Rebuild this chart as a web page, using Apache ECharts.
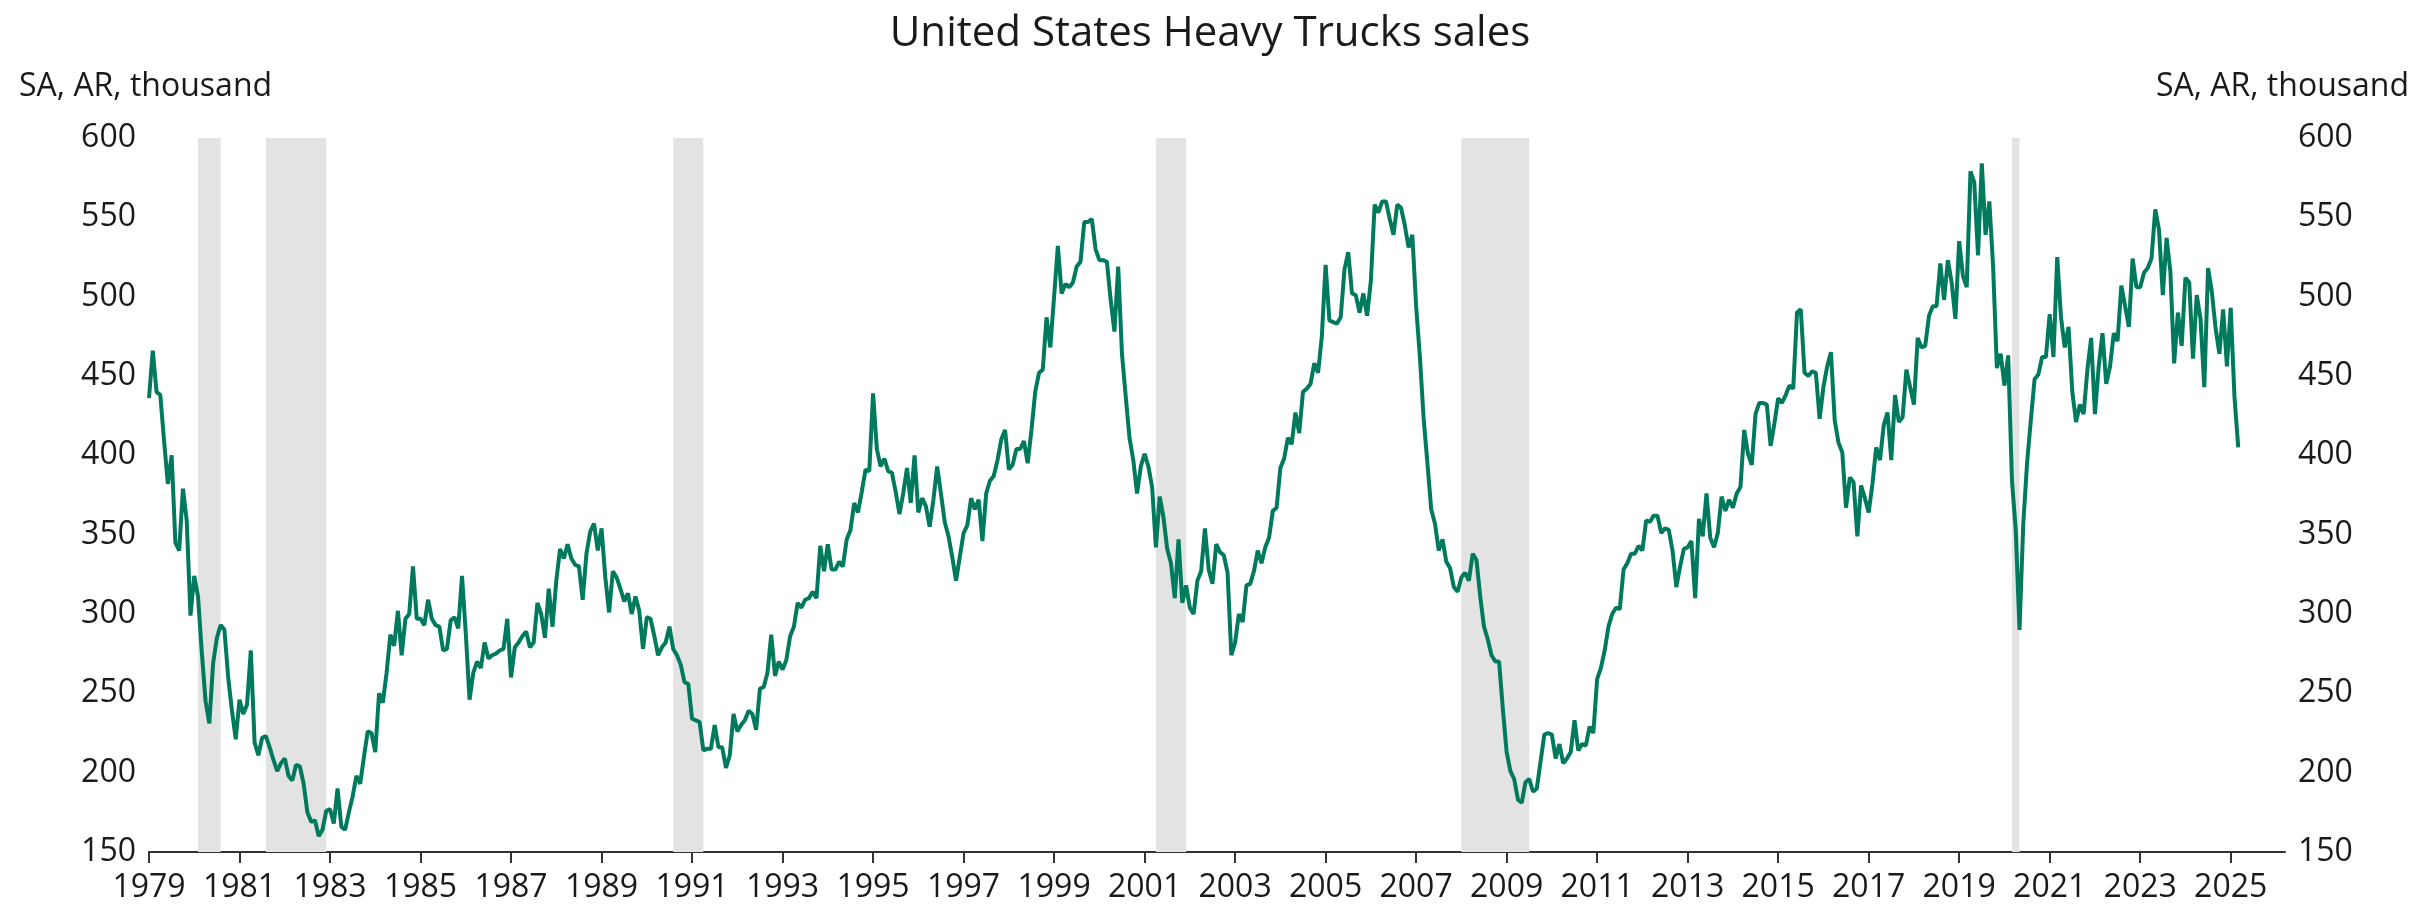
<!DOCTYPE html>
<html>
<head>
<meta charset="utf-8">
<title>United States Heavy Trucks sales</title>
<script src="https://cdn.jsdelivr.net/npm/echarts@6/dist/echarts.min.js"></script>
<style>
  html, body { margin: 0; padding: 0; background: #fff; }
  #chart { width: 2420px; height: 913px; }
</style>
</head>
<body>
<div id="chart"></div>
<script>
const chartTitle = 'United States Heavy Trucks sales'
const unitLabel = 'SA, AR, thousand'
const firstYear = 1979

// monthly values, Jan 1979 .. Mar 2025, one row per year
const sales = [
  436, 466, 440, 438, 409, 382, 400, 345, 340, 379, 359, 299,
  324, 311, 276, 245, 231, 269, 285, 293, 290, 260, 239, 221,
  246, 237, 243, 277, 219, 211, 222, 223, 216, 208, 201, 206,
  209, 198, 195, 205, 204, 193, 175, 169, 170, 160, 164, 176,
  177, 168, 190, 166, 164, 175, 185, 198, 193, 210, 226, 225,
  213, 250, 244, 263, 287, 280, 302, 274, 297, 300, 330, 297,
  297, 293, 309, 297, 293, 292, 277, 278, 296, 298, 291, 324,
  288, 246, 263, 270, 266, 282, 272, 274, 275, 277, 278, 297,
  260, 279, 282, 286, 289, 279, 282, 307, 300, 285, 316, 292,
  321, 341, 335, 344, 335, 331, 330, 309, 338, 352, 357, 340,
  354, 323, 301, 327, 323, 316, 308, 313, 300, 311, 302, 278,
  298, 297, 286, 274, 279, 282, 292, 278, 274, 268, 257, 256,
  234, 233, 232, 214, 215, 215, 230, 216, 216, 203, 211, 237,
  226, 230, 233, 239, 237, 227, 253, 254, 263, 287, 261, 270,
  265, 271, 286, 292, 307, 304, 309, 310, 314, 310, 343, 327,
  344, 328, 328, 333, 330, 347, 353, 370, 364, 377, 391, 390,
  439, 404, 393, 398, 390, 389, 377, 363, 376, 392, 370, 400,
  364, 373, 368, 355, 372, 393, 376, 358, 349, 336, 321, 336,
  351, 356, 373, 366, 372, 346, 376, 384, 387, 397, 410, 416,
  391, 394, 404, 404, 409, 395, 416, 440, 452, 454, 487, 468,
  500, 532, 502, 508, 506, 509, 519, 522, 547, 547, 549, 530,
  523, 523, 522, 498, 478, 519, 464, 437, 411, 397, 376, 393,
  401, 393, 380, 342, 374, 361, 341, 332, 310, 347, 307, 318,
  304, 300, 321, 327, 354, 328, 319, 344, 339, 337, 326, 274,
  282, 300, 295, 318, 319, 327, 340, 332, 342, 348, 365, 367,
  392, 398, 411, 407, 427, 414, 440, 442, 445, 458, 452, 475,
  520, 485, 484, 483, 487, 517, 528, 502, 501, 490, 502, 488,
  510, 558, 553, 560, 560, 549, 539, 558, 556, 545, 531, 539,
  494, 462, 423, 395, 366, 357, 340, 347, 333, 329, 317, 314,
  323, 326, 321, 338, 334, 311, 292, 284, 274, 270, 270, 240,
  213, 201, 196, 183, 181, 194, 196, 188, 190, 207, 224, 225,
  224, 209, 218, 206, 209, 213, 233, 214, 218, 217, 229, 225,
  259, 266, 277, 292, 300, 304, 303, 328, 332, 338, 338, 343,
  340, 359, 358, 362, 362, 351, 354, 353, 340, 317, 330, 341,
  342, 346, 310, 360, 349, 376, 348, 342, 351, 374, 365, 372,
  367, 376, 380, 416, 401, 394, 426, 433, 433, 432, 406, 420,
  436, 433, 438, 444, 442, 490, 492, 452, 450, 453, 452, 423,
  443, 456, 465, 422, 408, 402, 367, 386, 383, 349, 381, 373,
  364, 382, 405, 397, 419, 427, 397, 438, 421, 424, 454, 443,
  432, 474, 468, 469, 488, 494, 494, 521, 498, 523, 509, 486,
  535, 513, 506, 579, 572, 526, 584, 539, 560, 519, 455, 464,
  444, 463, 384, 353, 290, 357, 395, 422, 448, 451, 462, 462,
  489, 462, 525, 487, 468, 481, 440, 421, 432, 426, 454, 474,
  426, 456, 477, 445, 456, 477, 472, 507, 494, 481, 524, 506,
  506, 515, 518, 524, 555, 542, 501, 537, 516, 458, 490, 469,
  512, 509, 461, 501, 486, 443, 518, 503, 480, 464, 492, 456,
  493, 437, 405
]

const yearTicks = [1979, 1981, 1983, 1985, 1987, 1989, 1991, 1993, 1995, 1997, 1999, 2001,
  2003, 2005, 2007, 2009, 2011, 2013, 2015, 2017, 2019, 2021, 2023, 2025]

// recession months (first, last), shaded
const recessions = [
  ['1980-02', '1980-07'],
  ['1981-08', '1982-11'],
  ['1990-08', '1991-03'],
  ['2001-04', '2001-11'],
  ['2008-01', '2009-06'],
  ['2020-03', '2020-04']
]

const yMin = 150
const yMax = 600
const yStep = 50
const xMax = 2026.2

const monthToYear = (s, addMonth) => {
  const [y, m] = s.split('-').map(Number)
  return y + (m - 1 + addMonth) / 12
}

const points = sales.map((v, i) => [firstYear + i / 12, v])

const font = "'Open Sans', 'Noto Sans', sans-serif"
const textColor = '#1a1a1a'

const chart = echarts.init(document.getElementById('chart'))

const yAxisBase = {
  type: 'value',
  min: yMin,
  max: yMax,
  interval: yStep,
  axisLine: { show: false },
  axisTick: { show: false },
  splitLine: { show: false },
  axisLabel: { fontSize: 32, color: textColor, fontFamily: font, margin: 13 }
}

const option = {
  animation: false,
  backgroundColor: '#fff',
  title: [
    {
      text: chartTitle, left: 'center', top: 8,
      textStyle: { fontSize: 42, fontWeight: 'normal', color: textColor, fontFamily: font }
    },
    {
      text: unitLabel, left: 14, top: 66,
      textStyle: { fontSize: 32, fontWeight: 'normal', color: textColor, fontFamily: font }
    },
    {
      text: unitLabel, right: 6, top: 66,
      textStyle: { fontSize: 32, fontWeight: 'normal', color: textColor, fontFamily: font }
    }
  ],
  grid: { left: 149, right: 135, top: 138, bottom: 61 },
  xAxis: {
    type: 'value',
    min: firstYear,
    max: xMax,
    axisLine: { onZero: false, lineStyle: { color: '#333', width: 2 } },
    axisTick: { show: true, length: 11, customValues: yearTicks, lineStyle: { color: '#333', width: 2 } },
    axisLabel: {
      customValues: yearTicks,
      fontSize: 32, color: textColor, fontFamily: font, margin: 20,
      formatter: (v) => String(Math.round(v))
    },
    splitLine: { show: false }
  },
  yAxis: [
    Object.assign({ position: 'left' }, yAxisBase),
    Object.assign({ position: 'right' }, yAxisBase)
  ],
  series: [
    {
      name: 'Heavy Trucks sales',
      type: 'line',
      data: points,
      showSymbol: false,
      lineStyle: { color: '#007a5c', width: 4 },
      itemStyle: { color: '#007a5c' },
      markArea: {
        silent: true,
        itemStyle: { color: '#e2e3e2' },
        data: recessions.map(r => [{ xAxis: monthToYear(r[0], 0) }, { xAxis: monthToYear(r[1], 1) }])
      }
    }
  ]
}

chart.setOption(option)
</script>
</body>
</html>
